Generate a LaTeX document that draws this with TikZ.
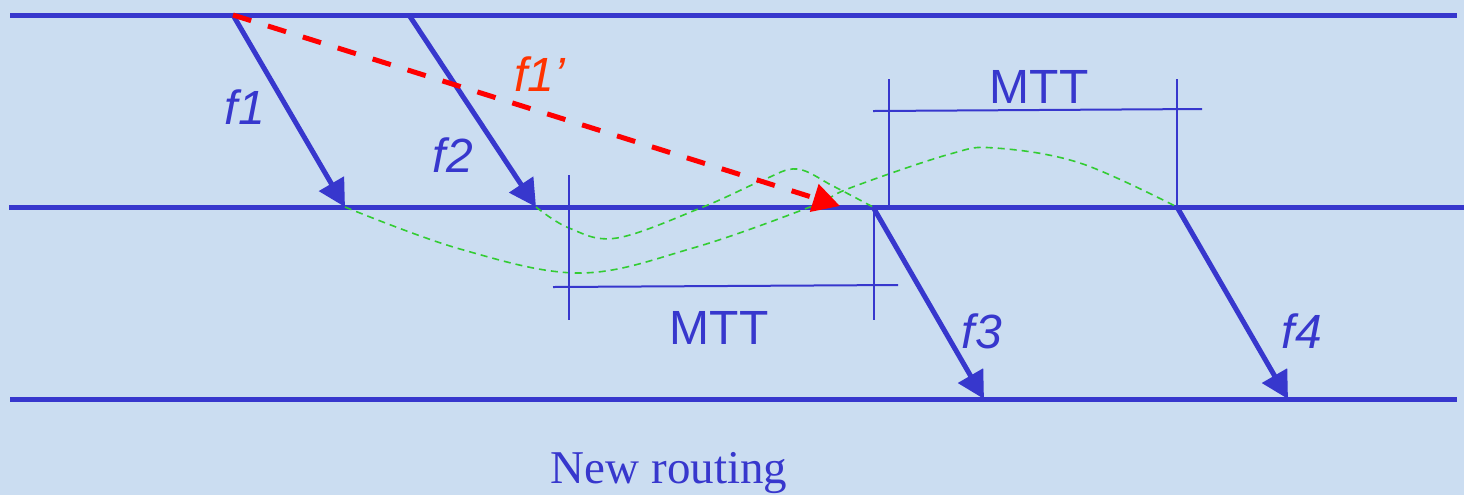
\documentclass[tikz,border=0pt]{standalone}
\usepackage{fontspec}
\setmainfont{Liberation Serif}
\setsansfont{Liberation Sans}
\usetikzlibrary{arrows.meta}
\definecolor{bg}{RGB}{203,221,241}
\definecolor{lblue}{RGB}{55,55,205}
\definecolor{fred}{RGB}{255,0,0}
\definecolor{lorange}{RGB}{255,51,0}
\definecolor{lgreen}{RGB}{51,204,51}
\begin{document}
\begin{tikzpicture}[x=0.5pt,y=-0.5pt,
  track/.style={lblue,line width=2.5pt},
  flight/.style={lblue,line width=2.5pt,-{Triangle[length=13.5pt,width=14pt]}},
  reroute/.style={fred,line width=2.5pt,dash pattern=on 9.5pt off 8.8pt,-{Triangle[length=13.5pt,width=14pt]}},
  tickline/.style={lblue,line width=1pt},
  conn/.style={lgreen,line width=0.8pt,dash pattern=on 3.5pt off 2.5pt},
  flabel/.style={lblue,font=\sffamily\itshape\fontsize{24}{24}\selectfont,inner sep=0},
  mtt/.style={lblue,font=\sffamily\fontsize{24}{24}\selectfont,inner sep=0}]
\useasboundingbox (0,0) rectangle (1464,495);
\fill[bg] (0,0) rectangle (1464,495);

% track end points
\coordinate (t1l) at (10,15);   \coordinate (t1r) at (1457,15);
\coordinate (t2l) at (9,207);   \coordinate (t2r) at (1464,207);
\coordinate (t3l) at (10,399);  \coordinate (t3r) at (1457,399);
\draw[track] (t1l) -- (t1r);
\draw[track] (t2l) -- (t2r);
\draw[track] (t3l) -- (t3r);

% flight points
\coordinate (f1s) at (233,15);  \coordinate (f1e) at (345,207);
\coordinate (f2s) at (409,15);  \coordinate (f2e) at (536,207);
\coordinate (f1pe) at (840,206);
\coordinate (f3s) at (873,207); \coordinate (f3e) at (984,399);
\coordinate (f4s) at (1177,207);\coordinate (f4e) at (1288,399);

% green connections
\draw[conn] plot[smooth,tension=0.6] coordinates {(f1e) (460,249) (580,273) (693,248) (810,207) (850,188) (950,154) (995,148) (1080,163) (f4s)};
\draw[conn] plot[smooth,tension=0.6] coordinates {(f2e) (569,228) (617,238) (703,207) (763,180) (797,169) (833,186) (f3s)};

% MTT brackets
\coordinate (ua) at (889,79);  \coordinate (ub) at (889,207);
\coordinate (uc) at (1177,79); \coordinate (ud) at (1177,207);
\coordinate (uh1) at (873,111); \coordinate (uh2) at (1202,109);
\draw[tickline] (ua) -- (ub);
\draw[tickline] (uc) -- (ud);
\draw[tickline] (uh1) -- (uh2);
\node[mtt] (mttu) at (1039,87) {MTT};

\coordinate (la) at (569,175); \coordinate (lb) at (569,320);
\coordinate (lc) at (874,207); \coordinate (ld) at (874,320);
\coordinate (lh1) at (553,287); \coordinate (lh2) at (898,285);
\draw[tickline] (la) -- (lb);
\draw[tickline] (lc) -- (ld);
\draw[tickline] (lh1) -- (lh2);
\node[mtt] (mttl) at (719,328) {MTT};

% flights
\draw[flight] (f1s) -- (f1e);
\draw[flight] (f2s) -- (f2e);
\draw[flight] (f3s) -- (f3e);
\draw[flight] (f4s) -- (f4e);
\draw[reroute] (f1s) -- (f1pe);

% labels
\node[flabel] (lf1) at (245,107) {f1};
\node[flabel] (lf2) at (453,155) {f2};
\node[flabel,lorange] (lf1p) at (540,74) {f1’};
\node[flabel] (lf3) at (982,331) {f3};
\node[flabel] (lf4) at (1302,331) {f4};

\node[lblue,font=\fontsize{23.5}{24}\selectfont,inner sep=0,anchor=base] (cap) at (669,483) {New routing};
\end{tikzpicture}
\end{document}
